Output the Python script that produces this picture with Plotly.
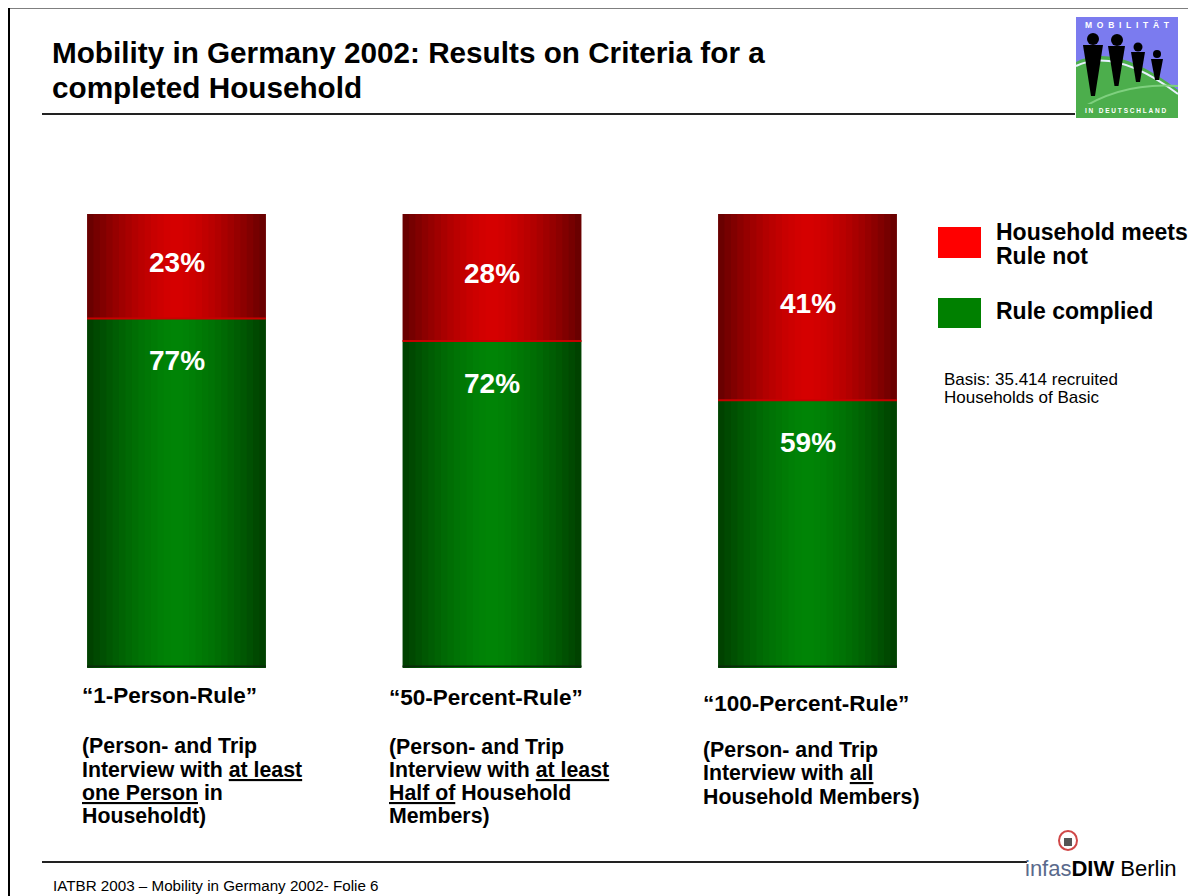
import plotly.graph_objects as go

# ---------------- data ----------------
categories = ["1-Person-Rule", "50-Percent-Rule", "100-Percent-Rule"]
complied = [77, 72, 59]          # green, bottom
not_met = [23, 28, 41]           # red, top
cat_labels = ["“1-Person-Rule”", "“50-Percent-Rule”", "“100-Percent-Rule”"]
desc_lines = [
    ["(Person- and Trip", "Interview with <u>at least</u>", "<u>one Person</u> in", "Householdt)"],
    ["(Person- and Trip", "Interview with <u>at least</u>", "<u>Half of</u> Household", "Members)"],
    ["(Person- and Trip", "Interview with <u>all</u>", "Household Members)"],
]

# page is shown with an 8px body margin; map reference pixels into the figure
OFF = 8
W_PX, H_PX = 1196 - OFF, 896 - OFF
FONT = "Arial, Liberation Sans, sans-serif"


def px(x):
    return (x - OFF) / W_PX


def py(y):
    return 1 - (y - OFF) / H_PX


xs = list(range(len(categories)))
BAR_W = 0.567
N = 14

red_edge, red_center = (100, 0, 0), (214, 0, 0)
green_edge, green_center = (0, 62, 0), (0, 132, 6)


def mix(a, b, t):
    return "rgb(%d,%d,%d)" % tuple(round(a[i] + (b[i] - a[i]) * t) for i in range(3))


fig = go.Figure()
for k in range(N):
    frac = 1 - k / N
    rm = 1 - (k + 0.5) / N
    t = 1 - rm ** 1.5
    w = BAR_W * frac
    fig.add_trace(go.Bar(x=xs, y=complied, width=w, marker=dict(color=mix(green_edge, green_center, t), line=dict(width=0)),
                         showlegend=False, hoverinfo="skip"))
    fig.add_trace(go.Bar(x=xs, y=not_met, base=complied, width=w,
                         marker=dict(color=mix(red_edge, red_center, t), line=dict(width=0)),
                         showlegend=False, hoverinfo="skip"))

# split line between segments and dark bottom edge
for i in xs:
    fig.add_trace(go.Scatter(x=[i - BAR_W / 2, i + BAR_W / 2], y=[complied[i], complied[i]], mode="lines",
                             line=dict(color="#c80000", width=2), showlegend=False, hoverinfo="skip"))
    fig.add_trace(go.Scatter(x=[i - BAR_W / 2, i + BAR_W / 2], y=[0.4, 0.4], mode="lines",
                             line=dict(color="#0a2a0a", width=1.5), showlegend=False, hoverinfo="skip"))

annotations = []
# value labels
for i in xs:
    annotations.append(dict(x=i, y=complied[i] + not_met[i] / 2, xref="x", yref="y", yshift=4,
                            xanchor="center", yanchor="middle",
                            text="<b>%d%%</b>" % not_met[i], showarrow=False,
                            font=dict(family=FONT, size=28, color="white")))
    annotations.append(dict(x=i, y=complied[i], xref="x", yref="y", yshift=-42,
                            xanchor="center", yanchor="middle",
                            text="<b>%d%%</b>" % complied[i], showarrow=False,
                            font=dict(family=FONT, size=28, color="white")))

# category labels and descriptions
cat_y = [695, 697, 703]
cat_x = [80, 387, 701]
desc_y = [[746, 770, 793, 816], [747, 770, 793, 816], [750, 773, 797]]
for i in xs:
    annotations.append(dict(x=px(cat_x[i]), y=py(cat_y[i]), xref="paper", yref="paper", xanchor="left",
                            yanchor="middle", text="<b>%s</b>" % cat_labels[i], showarrow=False,
                            font=dict(family=FONT, size=22.5, color="black")))
    for j, line in enumerate(desc_lines[i]):
        annotations.append(dict(x=px(cat_x[i]), y=py(desc_y[i][j]), xref="paper", yref="paper", xanchor="left",
                                yanchor="middle", text="<b>%s</b>" % line, showarrow=False,
                                font=dict(family=FONT, size=21.3, color="black")))

# title
for txt, yy in [("Mobility in Germany 2002: Results on Criteria for a", 52), ("completed Household", 88)]:
    annotations.append(dict(x=px(50), y=py(yy), xref="paper", yref="paper", xanchor="left", yanchor="middle",
                            text="<b>%s</b>" % txt, showarrow=False, font=dict(family=FONT, size=29.7, color="black")))

# legend text
for txt, yy in [("Household meets", 232), ("Rule not", 256), ("Rule complied", 311)]:
    annotations.append(dict(x=px(994), y=py(yy), xref="paper", yref="paper", xanchor="left", yanchor="middle",
                            text="<b>%s</b>" % txt, showarrow=False, font=dict(family=FONT, size=23, color="black")))
for txt, yy in [("Basis: 35.414 recruited", 380), ("Households of Basic", 397)]:
    annotations.append(dict(x=px(942), y=py(yy), xref="paper", yref="paper", xanchor="left", yanchor="middle",
                            text=txt, showarrow=False, font=dict(family=FONT, size=17, color="black")))

# footer
annotations.append(dict(x=px(51), y=py(885), xref="paper", yref="paper", xanchor="left", yanchor="middle",
                        text="IATBR 2003 – Mobility in Germany 2002- Folie 6", showarrow=False,
                        font=dict(family=FONT, size=15.2, color="black")))
annotations.append(dict(x=px(1179), y=py(868), xref="paper", yref="paper", xanchor="right", yanchor="middle",
                        text="<span style='color:#5a6a8c'>infas</span><b>DIW</b> Berlin", showarrow=False,
                        font=dict(family="Liberation Sans Narrow, Arial Narrow, Liberation Sans", size=22, color="black")))

# logo texts
NB = "\u00a0"
annotations.append(dict(x=px(1127), y=py(25), xref="paper", yref="paper", showarrow=False,
                        xanchor="center", yanchor="middle",
                        text="<b>%s</b>" % (NB * 2).join("MOBILITÄT"), font=dict(family=FONT, size=8.5, color="white")))
annotations.append(dict(x=px(1126), y=py(111), xref="paper", yref="paper", showarrow=False,
                        xanchor="center", yanchor="middle",
                        text="<b>%s</b>" % NB.join("IN DEUTSCHLAND".replace(" ", NB)),
                        font=dict(family=FONT, size=6.5, color="white")))

shapes = []


def line(x0, y0, x1, y1, color="black", width=2):
    shapes.append(dict(type="line", xref="paper", yref="paper", x0=px(x0), y0=py(y0), x1=px(x1), y1=py(y1),
                       line=dict(color=color, width=width)))


def rect(x0, y0, x1, y1, fill):
    shapes.append(dict(type="rect", xref="paper", yref="paper", x0=px(x0), y0=py(y0), x1=px(x1), y1=py(y1),
                       fillcolor=fill, line=dict(color=fill, width=0), layer="below"))


def path(pts_str, fill=None, lc=None, lw=0):
    shapes.append(dict(type="path", xref="paper", yref="paper", path=pts_str, layer="below",
                       fillcolor=fill if fill else "rgba(0,0,0,0)",
                       line=dict(color=lc if lc else "rgba(0,0,0,0)", width=lw)))


def P(x, y):
    return "%.5f,%.5f" % (px(x), py(y))


# slide frame
line(9, 7.5, 1196, 7.5, width=2)
line(9, 7, 9, 896, width=2)
# title rule & footer rule
line(42, 114, 1075, 114, color="#222", width=2)
line(42, 862, 1027, 862, color="#222", width=2)

# legend squares
rect(938, 227, 981, 258, "#ff0000")
rect(938, 298, 981, 328, "#008000")

# Mobilitaet logo
rect(1076, 17, 1178, 118, "#7b7bef")
path("M %s Q %s %s L %s L %s Z" % (P(1076, 62), P(1115, 42), P(1178, 90), P(1178, 118), P(1076, 118)),
     fill="#4cae4c")
path("M %s Q %s %s" % (P(1076, 66), P(1115, 47), P(1178, 94)), lc="#e8f0ff", lw=2)
path("M %s Q %s %s" % (P(1076, 112), P(1120, 82), P(1178, 86)), lc="#7fd07f", lw=2)
rect(1076, 104, 1178, 118, "#4cae4c")
people = [(1093, 39, 6, 1083, 1103, 45, 96), (1117, 40, 6, 1108, 1125, 46, 86),
          (1138, 47, 4.5, 1131, 1145, 52, 82), (1157, 54, 4, 1151, 1163, 59, 80)]
for cx, cy, r, bx0, bx1, by0, by1 in people:
    shapes.append(dict(type="circle", xref="paper", yref="paper", x0=px(cx - r), x1=px(cx + r), layer="below",
                       y0=py(cy - r), y1=py(cy + r), fillcolor="black", line=dict(width=0)))
    mid = (bx0 + bx1) / 2
    path("M %s L %s L %s L %s Z" % (P(bx0, by0), P(bx1, by0), P(mid + 2, by1), P(mid - 2, by1)), fill="black")

# infas logo circle
shapes.append(dict(type="circle", xref="paper", yref="paper", x0=px(1059), x1=px(1077), y0=py(831), y1=py(850),
                   fillcolor="white", line=dict(color="#d04848", width=2), layer="below"))
rect(1064, 838, 1072, 846, "#555")

fig.update_layout(
    width=W_PX, height=H_PX,
    margin=dict(l=0, r=0, t=0, b=0),
    paper_bgcolor="white", plot_bgcolor="rgba(0,0,0,0)",
    barmode="overlay",
    showlegend=False,
    xaxis=dict(domain=[px(18.75), px(965.25)], range=[-0.5, 2.5], visible=False, fixedrange=True),
    yaxis=dict(domain=[py(668), py(214)], range=[0, 100], visible=False, fixedrange=True),
    annotations=annotations,
    shapes=shapes,
)

fig.write_html("out.html")
